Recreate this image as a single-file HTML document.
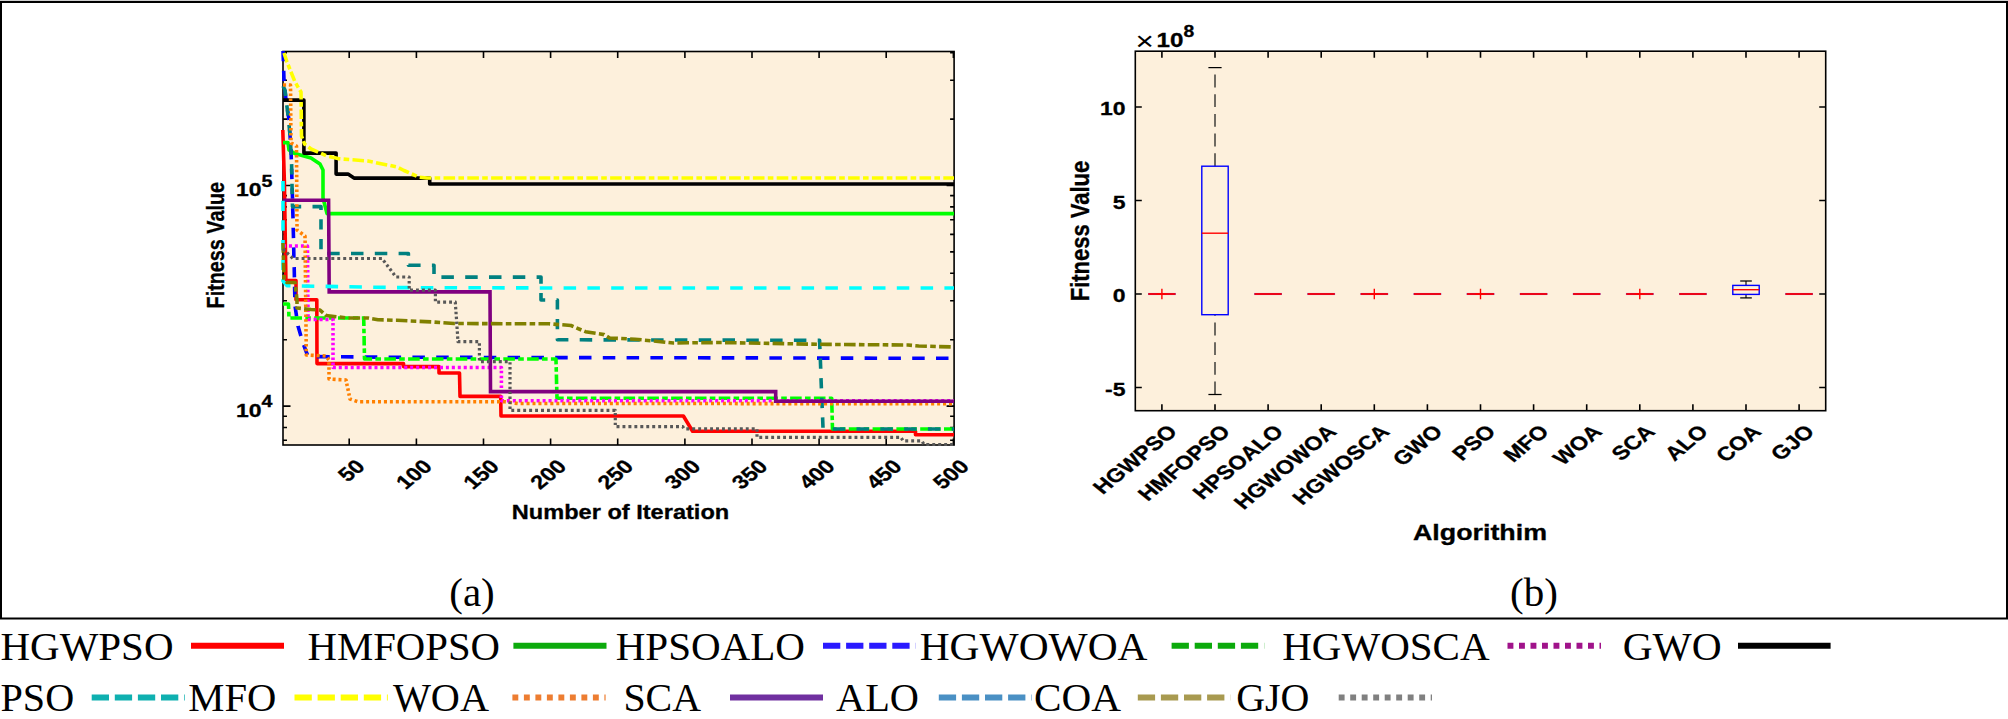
<!DOCTYPE html>
<html lang="en">
<head>
<meta charset="utf-8">
<title>Convergence curves and box plot</title>
<style>
html,body{margin:0;padding:0;background:#fff;}
body{width:2008px;height:719px;overflow:hidden;font-family:"Liberation Sans",sans-serif;}
svg{display:block;}
</style>
</head>
<body>
<svg width="2008" height="719" viewBox="0 0 2008 719">
<rect x="0" y="0" width="2008" height="719" fill="#fff"/>
<rect x="0" y="0" width="2008" height="1" fill="#d0d0d0"/>
<rect x="1" y="2" width="2006" height="616.5" fill="none" stroke="#000" stroke-width="2"/>
<rect x="283.0" y="51.5" width="671.1" height="393.5" fill="#FDF0DC"/>
<rect x="283.0" y="51.5" width="671.1" height="393.5" fill="none" stroke="#000" stroke-width="1.6"/>
<path d="M349.2 445.0 v-6.5 M349.2 51.5 v6.5 M416.4 445.0 v-6.5 M416.4 51.5 v6.5 M483.5 445.0 v-6.5 M483.5 51.5 v6.5 M550.6 445.0 v-6.5 M550.6 51.5 v6.5 M617.7 445.0 v-6.5 M617.7 51.5 v6.5 M684.9 445.0 v-6.5 M684.9 51.5 v6.5 M752.0 445.0 v-6.5 M752.0 51.5 v6.5 M819.1 445.0 v-6.5 M819.1 51.5 v6.5 M886.2 445.0 v-6.5 M886.2 51.5 v6.5 M953.4 445.0 v-6.5 M953.4 51.5 v6.5 M283.0 440.3 h4.0 M954.1 440.3 h-4.0 M283.0 427.5 h4.0 M954.1 427.5 h-4.0 M283.0 416.2 h4.0 M954.1 416.2 h-4.0 M283.0 406.1 h7.5 M954.1 406.1 h-7.5 M283.0 339.7 h4.0 M954.1 339.7 h-4.0 M283.0 300.8 h4.0 M954.1 300.8 h-4.0 M283.0 273.3 h4.0 M954.1 273.3 h-4.0 M283.0 251.9 h4.0 M954.1 251.9 h-4.0 M283.0 234.4 h4.0 M954.1 234.4 h-4.0 M283.0 219.7 h4.0 M954.1 219.7 h-4.0 M283.0 206.9 h4.0 M954.1 206.9 h-4.0 M283.0 195.6 h4.0 M954.1 195.6 h-4.0 M283.0 185.5 h7.5 M954.1 185.5 h-7.5 M283.0 119.1 h4.0 M954.1 119.1 h-4.0 M283.0 80.2 h4.0 M954.1 80.2 h-4.0 M283.0 52.7 h4.0 M954.1 52.7 h-4.0" stroke="#000" stroke-width="1.6" fill="none"/>
<g clip-path="url(#clipL)">
<defs><clipPath id="clipL"><rect x="280.5" y="49.0" width="674.6" height="398.0"/></clipPath></defs>
<path d="M282.8 130.0 L284.4 182.0 L285.9 280.6 L296.0 280.6 L296.0 299.8 L316.8 299.8 L317.0 363.6 L403.5 363.6 L403.5 366.6 L439.0 366.6 L439.0 373.0 L459.5 373.0 L460.0 396.4 L500.7 396.4 L501.0 416.0 L683.4 416.0 L692.6 431.3 L915.5 431.3 L915.5 434.8 L954.0 434.8" fill="none" stroke="#FF0000" stroke-width="3.6" stroke-linecap="butt" stroke-linejoin="round"/>
<path d="M283.0 142.6 L288.0 142.6 L289.0 150.0 L295.0 153.6 L311.0 158.0 L320.0 164.0 L323.0 170.0 L323.0 198.0 L327.0 213.6 L954.0 213.6" fill="none" stroke="#00FF00" stroke-width="3.6" stroke-linecap="butt" stroke-linejoin="round"/>
<path d="M283.0 51.0 L283.4 61.3 M283.7 70.7 L284.0 80.0 L284.1 81.0 M285.0 90.3 L286.0 100.0 L286.1 100.6 M287.5 109.9 L289.0 120.0 L289.0 120.1 M289.6 129.4 L290.3 139.7 M290.9 149.1 L291.0 150.0 L291.3 159.4 M291.6 168.7 L291.9 179.1 M292.2 188.4 L292.5 198.7 M292.7 208.1 L293.0 218.4 M293.2 227.7 L293.5 238.1 M293.7 247.4 L293.9 257.7 M294.2 267.1 L294.4 277.4 M294.6 286.7 L294.8 297.1 M295.1 306.4 L296.6 316.6 M298.0 325.9 L298.0 326.0 L300.9 335.9 M303.7 345.0 L307.4 354.9 M317.2 356.6 L329.7 356.7 M341.0 356.8 L353.5 356.9 M364.8 357.0 L377.3 357.1 M388.6 357.2 L400.0 357.3 L401.1 357.3 M412.4 357.3 L424.9 357.3 M436.2 357.4 L448.7 357.4 M460.0 357.4 L472.5 357.4 M483.8 357.5 L496.3 357.5 M507.6 357.5 L520.1 357.5 M531.4 357.5 L543.9 357.6 M555.2 357.6 L567.7 357.6 M579.0 357.6 L591.5 357.6 M602.8 357.7 L615.3 357.7 M626.6 357.7 L639.1 357.7 M650.4 357.8 L662.9 357.8 M674.2 357.8 L686.7 357.8 M698.0 357.8 L710.5 357.9 M721.8 357.9 L734.3 357.9 M745.6 357.9 L758.1 357.9 M769.4 358.0 L781.9 358.0 M793.2 358.0 L805.7 358.0 M817.0 358.1 L829.5 358.1 M840.8 358.1 L853.3 358.1 M864.6 358.1 L877.1 358.2 M888.4 358.2 L900.9 358.2 M912.2 358.2 L924.7 358.2 M936.0 358.3 L948.5 358.3" fill="none" stroke="#0000FF" stroke-width="3.6" stroke-linejoin="round"/>
<path d="M283.0 304.0 L288.5 304.0 L288.7 309.0 M288.8 311.8 L288.9 316.4 M290.4 318.0 L302.0 318.0 M305.3 318.0 L310.9 318.0 M314.2 318.0 L325.8 318.0 M329.1 318.0 L334.7 318.0 M338.0 318.0 L349.6 318.0 M352.9 318.0 L358.5 318.0 M361.8 318.0 L363.7 318.0 L363.9 326.0 M363.9 328.7 L364.0 333.3 M364.1 336.1 L364.2 345.6 M364.3 348.4 L364.4 353.0 M364.4 355.7 L364.5 359.0 L372.1 359.0 M375.4 359.0 L381.0 359.0 M384.3 359.0 L395.9 359.0 M399.2 359.0 L404.8 359.0 M408.1 359.0 L419.7 359.0 M423.0 359.0 L428.6 359.0 M431.9 359.0 L443.5 359.0 M446.8 359.0 L452.4 359.0 M455.7 359.0 L467.3 359.0 M470.6 359.0 L476.2 359.0 M479.5 359.0 L491.1 359.0 M494.4 359.0 L500.0 359.0 M503.3 359.0 L514.9 359.0 M518.2 359.0 L523.8 359.0 M527.1 359.0 L538.7 359.0 M542.0 359.0 L547.6 359.0 M550.9 359.0 L556.0 359.0 L556.1 364.4 M556.2 367.1 L556.3 371.8 M556.4 374.5 L556.6 384.1 M556.7 386.8 L556.8 391.4 M556.9 394.1 L557.0 398.2 L563.7 398.2 M567.0 398.2 L572.6 398.2 M575.9 398.2 L587.5 398.2 M590.8 398.2 L596.4 398.2 M599.7 398.2 L611.3 398.2 M614.6 398.2 L620.2 398.2 M623.5 398.2 L635.1 398.2 M638.4 398.2 L644.0 398.2 M647.3 398.2 L658.9 398.2 M662.2 398.2 L667.8 398.2 M671.1 398.2 L682.7 398.2 M686.0 398.2 L691.6 398.2 M694.9 398.2 L706.5 398.2 M709.8 398.2 L715.4 398.2 M718.7 398.2 L730.3 398.2 M733.6 398.2 L739.2 398.2 M742.5 398.2 L754.1 398.2 M757.4 398.2 L763.0 398.2 M766.3 398.2 L777.9 398.2 M781.2 398.2 L786.8 398.2 M790.1 398.2 L801.7 398.2 M805.0 398.2 L810.6 398.2 M813.9 398.2 L825.5 398.2 M828.8 398.2 L831.7 398.2 L831.8 400.4 M831.8 403.2 L832.1 412.7 M832.1 415.5 L832.3 420.1 M832.3 422.8 L832.5 429.0 L836.6 429.0 M839.9 429.0 L845.5 429.0 M848.8 429.0 L860.4 429.0 M863.7 429.0 L869.3 429.0 M872.6 429.0 L884.2 429.0 M887.5 429.0 L893.1 429.0 M896.4 429.0 L908.0 429.0 M911.3 429.0 L916.9 429.0 M920.2 429.0 L931.8 429.0 M935.1 429.0 L940.7 429.0 M944.0 429.0 L954.0 429.0" fill="none" stroke="#00FF00" stroke-width="3.6" stroke-linejoin="round"/>
<path d="M283.0 246.0 L286.1 246.0 M288.9 246.0 L292.0 246.0 M294.9 246.0 L297.9 246.0 M300.9 246.0 L303.9 246.0 M306.8 246.0 L307.5 246.0 L307.5 247.9 M307.5 250.3 L307.5 252.9 M307.6 255.3 L307.6 257.8 M307.6 260.2 L307.6 262.7 M307.6 265.1 L307.6 267.6 M307.7 270.0 L307.7 272.5 M307.7 274.9 L307.7 277.4 M307.7 279.8 L307.7 282.4 M307.8 284.8 L307.8 287.3 M307.8 289.7 L307.8 292.2 M307.8 294.6 L307.8 297.1 M307.9 299.5 L307.9 302.0 M307.9 304.4 L307.9 306.9 M307.9 309.3 L307.9 311.9 M308.0 314.3 L308.0 316.8 M308.0 319.2 L308.0 319.5 L310.7 319.5 M313.6 319.5 L316.6 319.5 M319.5 319.5 L322.6 319.5 M325.5 319.5 L328.5 319.5 M331.4 319.5 L333.0 319.5 L333.0 320.7 M333.0 323.1 L333.0 325.6 M333.0 328.0 L333.0 330.5 M333.0 332.9 L333.0 335.5 M333.0 337.9 L333.0 340.4 M333.0 342.8 L333.0 345.3 M333.0 347.7 L333.0 350.2 M333.0 352.6 L333.0 355.1 M333.0 357.5 L333.0 360.0 M333.0 362.4 L333.0 365.0 M333.0 367.4 L333.0 367.5 L335.9 367.5 M338.8 367.5 L341.8 367.5 M344.7 367.5 L347.8 367.5 M350.7 367.5 L353.7 367.5 M356.6 367.5 L359.7 367.5 M362.6 367.5 L365.6 367.5 M368.5 367.5 L371.6 367.5 M374.5 367.5 L377.5 367.5 M380.4 367.5 L383.5 367.5 M386.4 367.5 L389.4 367.5 M392.3 367.5 L395.4 367.5 M398.3 367.5 L401.3 367.5 M404.2 367.5 L407.3 367.5 M410.2 367.5 L413.2 367.5 M416.1 367.5 L419.2 367.5 M422.1 367.5 L425.1 367.5 M428.0 367.5 L431.1 367.5 M434.0 367.5 L437.0 367.5 M439.9 367.5 L443.0 367.5 M445.9 367.5 L448.9 367.5 M451.8 367.5 L454.9 367.5 M457.8 367.5 L460.8 367.5 M463.7 367.5 L466.8 367.5 M469.7 367.5 L472.7 367.5 M475.6 367.5 L478.7 367.5 M481.6 367.5 L484.6 367.5 M487.5 367.5 L490.6 367.5 M493.5 367.5 L496.5 367.5 M499.4 367.5 L501.4 367.5 L501.4 368.4 M501.4 370.8 L501.4 373.3 M501.4 375.7 L501.4 378.2 M501.4 380.6 L501.4 383.1 M501.4 385.5 L501.4 388.1 M501.4 390.5 L501.4 393.0 M501.4 395.4 L501.4 397.9 M501.4 400.3 L501.4 400.7 L504.0 400.7 M506.9 400.7 L509.9 400.7 M512.8 400.7 L515.9 400.7 M518.8 400.7 L521.8 400.7 M524.7 400.7 L527.8 400.7 M530.7 400.7 L533.7 400.7 M536.6 400.7 L539.7 400.7 M542.6 400.7 L545.6 400.7 M548.5 400.7 L551.6 400.7 M554.5 400.7 L557.5 400.7 M560.4 400.7 L563.5 400.7 M566.4 400.7 L569.4 400.7 M572.3 400.7 L575.4 400.7 M578.3 400.7 L581.3 400.7 M584.2 400.7 L587.3 400.7 M590.2 400.7 L593.2 400.7 M596.1 400.7 L599.2 400.7 M602.1 400.7 L605.1 400.7 M608.0 400.7 L611.1 400.7 M614.0 400.7 L617.0 400.7 M619.9 400.7 L623.0 400.7 M625.9 400.7 L628.9 400.7 M631.8 400.7 L634.9 400.7 M637.8 400.7 L640.8 400.7 M643.7 400.7 L646.8 400.7 M649.7 400.7 L652.7 400.7 M655.6 400.7 L658.7 400.7 M661.6 400.7 L664.6 400.7 M667.5 400.7 L670.6 400.7 M673.5 400.7 L676.5 400.7 M679.4 400.7 L682.5 400.7 M685.4 400.7 L688.4 400.7 M691.3 400.7 L694.4 400.7 M697.3 400.7 L700.3 400.7 M703.2 400.7 L706.3 400.7 M709.2 400.7 L712.2 400.7 M715.1 400.7 L718.2 400.7 M721.1 400.7 L724.1 400.7 M727.0 400.7 L730.1 400.7 M733.0 400.7 L736.0 400.7 M738.9 400.7 L742.0 400.7 M744.9 400.7 L747.9 400.7 M750.8 400.7 L753.9 400.7 M756.8 400.7 L759.8 400.7 M762.7 400.7 L765.8 400.7 M768.7 400.7 L771.7 400.7 M774.6 400.7 L777.7 400.7 M780.6 400.7 L783.6 400.7 M786.5 400.7 L789.6 400.7 M792.5 400.7 L795.5 400.7 M798.4 400.7 L801.5 400.7 M804.4 400.7 L807.4 400.7 M810.3 400.7 L813.4 400.7 M816.3 400.7 L819.3 400.7 M822.2 400.7 L825.3 400.7 M828.2 400.7 L831.2 400.7 M834.1 400.7 L837.2 400.7 M840.1 400.7 L843.1 400.7 M846.0 400.7 L849.1 400.7 M852.0 400.7 L855.0 400.7 M857.9 400.7 L861.0 400.7 M863.9 400.7 L866.9 400.7 M869.8 400.7 L872.9 400.7 M875.8 400.7 L878.8 400.7 M881.7 400.7 L884.8 400.7 M887.7 400.7 L890.7 400.7 M893.6 400.7 L896.7 400.7 M899.6 400.7 L902.6 400.7 M905.5 400.7 L908.6 400.7 M911.5 400.7 L914.5 400.7 M917.4 400.7 L920.5 400.7 M923.4 400.7 L926.4 400.7 M929.3 400.7 L932.4 400.7 M935.3 400.7 L938.3 400.7 M941.2 400.7 L944.3 400.7 M947.2 400.7 L950.2 400.7 M953.1 400.7 L954.0 400.7" fill="none" stroke="#FF00FF" stroke-width="3.6" stroke-linejoin="round"/>
<path d="M283.0 100.1 L303.9 100.1 L303.9 153.1 L336.1 153.1 L336.1 174.1 L348.0 174.1 L354.0 178.1 L429.7 178.1 L429.7 184.0 L954.0 184.0" fill="none" stroke="#000000" stroke-width="3.6" stroke-linecap="butt" stroke-linejoin="round"/>
<path d="M283.0 86.0 L285.0 90.0 L285.7 96.0 M286.8 105.3 L288.0 115.0 L288.1 115.5 M289.0 124.9 L290.0 135.0 L290.0 135.2 M290.6 144.5 L291.2 154.8 M291.6 164.1 L291.8 174.5 M292.0 183.8 L292.2 194.1 M292.4 203.5 L292.5 206.6 L301.2 206.6 M312.5 206.6 L321.0 206.6 L321.0 209.9 M321.0 219.2 L321.0 229.6 M321.0 238.9 L321.0 249.2 M327.2 253.5 L339.7 253.5 M351.0 253.5 L363.5 253.5 M374.8 253.5 L387.3 253.5 M398.6 253.5 L408.4 253.5 L408.4 255.7 M408.4 265.0 L408.4 265.3 L420.6 265.3 M431.9 265.3 L434.0 265.3 L434.0 273.9 M441.4 277.1 L453.9 277.1 M465.2 277.1 L477.7 277.1 M489.0 277.1 L501.5 277.1 M512.8 277.1 L525.3 277.1 M536.6 277.1 L541.0 277.1 L541.0 283.8 M541.0 293.1 L541.0 300.0 L545.2 300.0 M556.5 300.0 L557.4 300.0 L557.4 309.6 M557.4 318.9 L557.4 329.2 M557.4 338.6 L557.4 339.8 L568.4 339.8 M579.7 339.8 L592.2 339.9 M603.5 339.9 L616.0 339.9 M627.3 339.9 L639.8 340.0 M651.1 340.0 L663.6 340.0 M674.9 340.0 L687.4 340.0 M698.7 340.1 L711.2 340.1 M722.5 340.1 L735.0 340.1 M746.3 340.2 L758.8 340.2 M770.1 340.2 L782.6 340.2 M793.9 340.3 L806.4 340.3 M817.7 340.3 L819.6 340.3 L819.9 349.1 M820.3 358.4 L820.7 368.7 M821.0 378.1 L821.4 388.4 M821.8 397.7 L822.2 408.1 M822.6 417.4 L823.0 427.7 M832.7 429.0 L845.2 429.0 M856.5 429.0 L869.0 429.0 M880.3 429.0 L892.8 429.0 M904.1 429.0 L916.6 429.0 M927.9 429.0 L940.4 429.0 M951.7 429.0 L954.0 429.0" fill="none" stroke="#008080" stroke-width="3.6" stroke-linejoin="round"/>
<path d="M284.0 53.0 L287.0 62.0 L287.1 62.2 M288.1 64.8 L289.9 69.2 M290.9 71.8 L291.0 72.0 L294.6 80.9 M295.9 83.4 L298.3 87.6 M299.8 90.0 L301.0 92.0 L301.1 99.4 M301.1 102.1 L301.2 106.7 M301.2 109.4 L301.3 119.0 M301.3 121.8 L301.4 126.4 M301.4 129.1 L301.5 136.0 L302.5 138.6 M303.5 141.2 L304.6 144.0 L306.1 145.1 M308.5 147.0 L311.0 149.0 L318.1 152.1 M321.1 153.4 L326.0 155.6 L326.0 155.6 M329.2 156.4 L338.0 158.6 L340.4 158.8 M343.6 159.1 L349.2 159.5 M352.5 159.8 L364.0 160.7 M367.3 160.9 L368.0 161.0 L372.8 162.0 M376.0 162.7 L387.2 165.0 M390.4 165.6 L395.9 166.8 M398.8 167.9 L404.0 170.5 L408.9 172.7 M411.8 174.0 L416.7 176.2 M419.7 177.2 L427.0 178.0 L431.3 178.0 M434.6 178.0 L440.2 178.0 M443.5 178.0 L455.1 178.0 M458.4 178.0 L464.0 178.0 M467.3 178.0 L478.9 178.0 M482.2 178.0 L487.8 178.0 M491.1 178.0 L502.7 178.0 M506.0 178.0 L511.6 178.0 M514.9 178.0 L526.5 178.0 M529.8 178.0 L535.4 178.0 M538.7 178.0 L550.3 178.0 M553.6 178.0 L559.2 178.0 M562.5 178.0 L574.1 178.0 M577.4 178.0 L583.0 178.0 M586.3 178.0 L597.9 178.0 M601.2 178.0 L606.8 178.0 M610.1 178.0 L621.7 178.0 M625.0 178.0 L630.6 178.0 M633.9 178.0 L645.5 178.0 M648.8 178.0 L654.4 178.0 M657.7 178.0 L669.3 178.0 M672.6 178.0 L678.2 178.0 M681.5 178.0 L693.1 178.0 M696.4 178.0 L702.0 178.0 M705.3 178.0 L716.9 178.0 M720.2 178.0 L725.8 178.0 M729.1 178.0 L740.7 178.0 M744.0 178.0 L749.6 178.0 M752.9 178.0 L764.5 178.0 M767.8 178.0 L773.4 178.0 M776.7 178.0 L788.3 178.0 M791.6 178.0 L797.2 178.0 M800.5 178.0 L812.1 178.0 M815.4 178.0 L821.0 178.0 M824.3 178.0 L835.9 178.0 M839.2 178.0 L844.8 178.0 M848.1 178.0 L859.7 178.0 M863.0 178.0 L868.6 178.0 M871.9 178.0 L883.5 178.0 M886.8 178.0 L892.4 178.0 M895.7 178.0 L907.3 178.0 M910.6 178.0 L916.2 178.0 M919.5 178.0 L931.1 178.0 M934.4 178.0 L940.0 178.0 M943.3 178.0 L954.0 178.0" fill="none" stroke="#FFFF00" stroke-width="3.6" stroke-linejoin="round"/>
<path d="M283.0 85.0 L286.1 85.0 M288.9 85.0 L290.5 85.0 L290.5 86.2 M290.5 88.6 L290.6 91.2 M290.6 93.6 L290.6 96.1 M290.6 98.5 L290.6 101.0 M290.7 103.4 L290.7 105.9 M290.7 108.3 L290.7 110.8 M290.7 113.2 L290.8 115.7 M290.8 118.1 L290.8 120.7 M290.8 123.1 L290.8 125.6 M290.9 128.0 L290.9 130.5 M290.9 132.9 L290.9 135.4 M291.0 137.8 L291.0 140.3 M291.0 142.7 L291.0 143.0 L293.3 144.2 M295.7 145.6 L296.5 146.0 L296.5 147.7 M296.5 150.1 L296.5 152.6 M296.6 155.0 L296.6 157.6 M296.6 159.9 L296.6 162.5 M296.6 164.9 L296.6 167.4 M296.6 169.8 L296.7 172.3 M296.7 174.7 L296.7 177.2 M296.7 179.6 L296.7 182.1 M296.7 184.5 L296.7 187.1 M296.8 189.5 L296.8 192.0 M296.8 194.4 L296.8 196.9 M296.8 199.3 L296.8 201.8 M296.8 204.2 L296.9 206.7 M296.9 209.1 L296.9 211.6 M296.9 214.0 L296.9 216.6 M296.9 219.0 L296.9 221.5 M297.0 223.9 L297.0 226.4 M297.0 228.8 L297.0 230.0 L298.2 230.9 M300.3 232.5 L302.6 234.2 M304.7 235.8 L305.0 236.0 L305.0 238.2 M305.1 240.6 L305.1 243.1 M305.1 245.5 L305.1 248.1 M305.2 250.4 L305.2 253.0 M305.2 255.4 L305.2 257.9 M305.3 260.3 L305.3 262.8 M305.3 265.2 L305.3 267.7 M305.4 270.1 L305.4 272.6 M305.4 275.0 L305.5 277.6 M305.5 280.0 L305.5 282.5 M305.5 284.9 L305.6 287.4 M305.6 289.8 L305.6 292.3 M305.6 294.7 L305.7 297.2 M305.7 299.6 L305.7 302.1 M305.7 304.5 L305.8 307.1 M305.8 309.5 L305.8 312.0 M305.9 314.4 L305.9 316.9 M305.9 319.3 L305.9 321.8 M306.0 324.2 L306.0 326.7 M306.0 329.1 L306.0 331.6 M306.1 334.0 L306.1 336.6 M306.1 339.0 L306.2 341.5 M306.2 343.9 L306.2 346.4 M306.2 348.8 L306.3 351.3 M306.3 353.7 L306.3 355.0 L307.8 355.1 M310.7 355.2 L313.7 355.4 M316.6 355.5 L319.7 355.7 M322.6 355.8 L325.6 356.0 M327.3 357.8 L328.9 359.9 M329.0 362.3 L329.0 364.8 M329.0 367.2 L329.0 369.7 M329.0 372.1 L329.0 374.6 M329.0 377.0 L329.0 379.0 L329.7 379.0 M332.6 379.2 L335.6 379.4 M338.5 379.6 L341.5 379.7 M344.4 379.9 L346.0 380.0 L346.3 381.2 M346.7 383.6 L347.3 386.0 M347.8 388.4 L348.3 390.9 M348.8 393.3 L349.3 395.7 M349.8 398.1 L350.0 399.0 L351.8 399.6 M354.5 400.6 L357.3 401.5 M360.1 401.8 L363.2 401.8 M366.1 401.8 L369.1 401.8 M372.0 401.8 L375.1 401.8 M378.0 401.8 L381.0 401.8 M383.9 401.8 L387.0 401.8 M389.9 401.8 L392.9 401.8 M395.8 401.8 L398.9 401.8 M401.8 401.8 L404.8 401.8 M407.7 401.8 L410.8 401.8 M413.7 401.8 L416.7 401.8 M419.6 401.8 L422.7 401.8 M425.6 401.8 L428.6 401.8 M431.5 401.8 L434.6 401.8 M437.5 401.8 L440.5 401.8 M443.4 401.8 L446.5 401.8 M449.4 401.8 L452.4 401.8 M455.3 401.8 L458.4 401.8 M461.3 401.8 L464.3 401.8 M467.2 401.8 L470.3 401.8 M473.2 401.8 L476.2 401.8 M479.1 401.8 L482.2 401.8 M485.1 401.8 L488.1 401.8 M491.0 401.8 L494.1 401.8 M497.0 401.8 L500.0 401.8 M502.9 401.8 L505.0 401.8 L505.9 401.9 M508.8 402.3 L511.8 402.7 M514.7 403.1 L517.7 403.5 M520.6 403.5 L523.6 403.5 M526.5 403.5 L529.6 403.5 M532.5 403.5 L535.5 403.5 M538.4 403.5 L541.5 403.5 M544.4 403.5 L547.4 403.5 M550.3 403.5 L553.4 403.5 M556.3 403.5 L559.3 403.5 M562.2 403.5 L565.3 403.5 M568.2 403.5 L571.2 403.5 M574.1 403.5 L577.2 403.5 M580.1 403.5 L583.1 403.5 M586.0 403.5 L589.1 403.5 M592.0 403.5 L595.0 403.5 M597.9 403.5 L601.0 403.5 M603.9 403.5 L606.9 403.5 M609.8 403.5 L612.9 403.5 M615.8 403.5 L618.8 403.5 M621.7 403.5 L624.8 403.5 M627.7 403.5 L630.7 403.5 M633.6 403.5 L636.7 403.5 M639.6 403.5 L642.6 403.5 M645.5 403.5 L648.6 403.5 M651.5 403.5 L654.5 403.5 M657.4 403.5 L660.5 403.5 M663.4 403.5 L666.4 403.5 M669.3 403.5 L672.4 403.5 M675.3 403.5 L678.3 403.5 M681.2 403.5 L684.3 403.5 M687.2 403.5 L690.2 403.5 M693.1 403.5 L696.2 403.5 M699.1 403.5 L702.1 403.5 M705.0 403.5 L708.1 403.5 M711.0 403.5 L714.0 403.5 M716.9 403.5 L720.0 403.5 M722.9 403.5 L725.9 403.5 M728.8 403.5 L731.9 403.5 M734.8 403.5 L737.8 403.6 M740.7 403.6 L743.8 403.6 M746.7 403.6 L749.7 403.6 M752.6 403.6 L755.7 403.6 M758.6 403.6 L761.6 403.6 M764.5 403.6 L767.6 403.6 M770.5 403.6 L773.5 403.6 M776.4 403.6 L779.5 403.6 M782.4 403.6 L785.4 403.6 M788.3 403.6 L791.4 403.6 M794.3 403.6 L797.3 403.6 M800.2 403.6 L803.3 403.6 M806.2 403.6 L809.2 403.6 M812.1 403.6 L815.2 403.6 M818.1 403.6 L821.1 403.6 M824.0 403.6 L827.1 403.6 M830.0 403.6 L833.0 403.6 M835.9 403.6 L839.0 403.6 M841.9 403.6 L844.9 403.6 M847.8 403.6 L850.9 403.6 M853.8 403.6 L856.8 403.6 M859.7 403.6 L862.8 403.6 M865.7 403.6 L868.7 403.6 M871.6 403.6 L874.7 403.6 M877.6 403.6 L880.6 403.6 M883.5 403.6 L886.6 403.6 M889.5 403.6 L892.5 403.6 M895.4 403.6 L898.5 403.6 M901.4 403.6 L904.4 403.6 M907.3 403.6 L910.4 403.6 M913.3 403.6 L916.3 403.6 M919.2 403.6 L922.3 403.6 M925.2 403.6 L928.2 403.6 M931.1 403.6 L934.2 403.6 M937.1 403.6 L940.1 403.6 M943.0 403.6 L946.1 403.6 M949.0 403.6 L952.0 403.6" fill="none" stroke="#FF8000" stroke-width="3.6" stroke-linejoin="round"/>
<path d="M283.0 200.3 L328.6 200.3 L329.2 291.9 L490.0 291.9 L490.5 391.6 L775.7 391.6 L775.7 401.2 L954.0 401.2" fill="none" stroke="#800080" stroke-width="3.6" stroke-linecap="butt" stroke-linejoin="miter"/>
<path d="M283.0 181.0 L283.0 191.3 M283.0 200.7 L283.0 211.0 M283.0 220.3 L283.0 230.7 M283.0 240.0 L283.0 250.3 M283.0 259.7 L283.0 270.0 M283.0 279.3 L283.0 281.0 L287.0 285.7 L290.5 285.8 M301.8 286.0 L314.3 286.2 M325.6 286.4 L338.1 286.6 M349.4 286.8 L361.9 287.0 M373.2 287.2 L385.7 287.4 M397.0 287.6 L400.0 287.6 L409.5 287.6 M420.8 287.7 L433.3 287.7 M444.6 287.7 L457.1 287.8 M468.4 287.8 L480.9 287.8 M492.2 287.8 L504.7 287.9 M516.0 287.9 L528.5 287.9 M539.8 288.0 L550.0 288.0 L552.3 288.0 M563.6 288.0 L576.1 288.0 M587.4 288.0 L599.9 288.0 M611.2 288.0 L623.7 288.0 M635.0 288.0 L647.5 288.0 M658.8 288.0 L671.3 288.0 M682.6 288.0 L695.1 288.0 M706.4 288.0 L718.9 288.0 M730.2 288.0 L742.7 288.0 M754.0 288.0 L766.5 288.0 M777.8 288.0 L790.3 288.0 M801.6 288.0 L814.1 288.0 M825.4 288.0 L837.9 288.0 M849.2 288.0 L861.7 288.0 M873.0 288.0 L885.5 288.0 M896.8 288.0 L909.3 288.0 M920.6 288.0 L933.1 288.0 M944.4 288.0 L954.0 288.0" fill="none" stroke="#00FFFF" stroke-width="3.6" stroke-linejoin="round"/>
<path d="M283.0 243.0 L283.3 252.6 M283.3 255.3 L283.5 259.9 M283.5 262.7 L283.8 272.2 M283.9 275.0 L284.0 279.6 M286.0 281.7 L287.0 282.5 L295.0 282.5 L295.2 284.3 M295.5 287.0 L296.0 291.6 M296.4 294.3 L297.0 300.0 L297.0 303.9 M297.0 306.6 L297.0 308.0 L300.9 308.4 M304.1 308.8 L311.0 309.5 L315.7 309.8 M319.0 309.9 L320.0 310.0 L323.1 312.8 M325.3 314.8 L326.0 315.5 L334.0 316.5 L336.4 316.8 M339.7 317.1 L345.2 317.7 M348.5 318.0 L360.1 318.0 M363.4 318.0 L368.0 318.0 L369.0 318.2 M372.2 318.8 L378.0 319.8 L383.7 319.9 M387.0 320.0 L392.6 320.2 M395.9 320.3 L397.0 320.3 L407.4 320.8 M410.7 321.0 L416.3 321.2 M419.6 321.4 L431.2 321.9 M434.5 322.1 L440.1 322.5 M443.4 322.8 L454.0 323.5 L454.9 323.5 M458.2 323.5 L463.8 323.5 M467.1 323.5 L478.7 323.6 M482.0 323.6 L487.6 323.6 M490.9 323.6 L502.5 323.7 M505.8 323.7 L511.4 323.7 M514.7 323.7 L526.3 323.7 M529.6 323.7 L535.2 323.8 M538.5 323.8 L549.0 323.8 L550.1 323.9 M553.4 324.1 L559.0 324.6 M562.3 324.8 L571.0 325.5 L573.5 326.6 M576.4 327.8 L581.4 330.0 M584.3 331.2 L585.5 331.7 L595.6 333.3 M598.9 333.8 L604.0 334.6 L604.3 334.8 M607.0 336.4 L609.6 338.0 L617.9 338.4 M621.2 338.5 L626.8 338.8 M630.1 339.0 L635.0 339.2 L641.6 339.8 M644.9 340.2 L650.5 340.7 M653.8 341.0 L660.7 341.7 L665.3 342.2 M668.5 342.5 L673.5 343.0 L674.1 343.0 M677.4 343.0 L689.0 342.8 M692.3 342.8 L697.9 342.7 M701.2 342.7 L712.8 342.6 M716.1 342.5 L720.0 342.5 L721.7 342.5 M725.0 342.6 L736.6 342.8 M739.9 342.9 L745.5 343.0 M748.8 343.0 L760.4 343.2 M763.7 343.3 L769.3 343.4 M772.6 343.4 L784.2 343.6 M787.5 343.7 L793.1 343.8 M796.4 343.9 L808.0 344.1 M811.3 344.1 L816.9 344.2 M820.2 344.3 L827.0 344.4 L831.8 344.4 M835.1 344.5 L840.7 344.5 M844.0 344.5 L855.6 344.6 M858.9 344.6 L864.5 344.7 M867.8 344.7 L879.4 344.8 M882.7 344.8 L888.3 344.9 M891.6 344.9 L903.2 345.0 M906.5 345.0 L908.0 345.0 L912.0 345.4 M915.3 345.7 L918.7 346.0 L926.9 346.2 M930.2 346.3 L935.8 346.5 M939.1 346.6 L950.7 346.9 M954.0 347.0 L954.0 347.0" fill="none" stroke="#808000" stroke-width="3.6" stroke-linejoin="round"/>
<path d="M283.0 249.0 L284.9 250.8 M286.9 252.7 L288.8 254.5 M290.8 256.4 L292.7 258.3 M295.6 258.5 L298.6 258.5 M301.6 258.5 L304.5 258.5 M307.5 258.5 L310.5 258.5 M313.5 258.5 L316.4 258.5 M319.4 258.5 L322.4 258.5 M325.4 258.5 L328.3 258.5 M331.3 258.5 L334.3 258.5 M337.3 258.5 L340.2 258.5 M343.2 258.5 L346.2 258.5 M349.2 258.5 L352.1 258.5 M355.1 258.5 L358.1 258.5 M361.1 258.5 L364.0 258.5 M367.0 258.5 L370.0 258.5 M373.0 258.5 L375.9 258.5 M378.9 258.5 L381.9 258.5 M383.5 260.5 L385.1 262.6 M386.7 264.7 L388.2 266.7 M389.8 268.8 L391.4 270.9 M393.0 273.0 L394.5 275.1 M396.3 277.0 L399.2 277.0 M402.2 277.0 L405.2 277.0 M408.2 277.0 L409.2 277.0 L409.2 278.6 M409.2 281.1 L409.2 283.5 M409.2 286.0 L409.2 288.4 M410.0 290.2 L413.0 290.2 M416.0 290.2 L418.9 290.2 M421.9 290.2 L424.9 290.2 M427.9 290.2 L430.8 290.2 M433.8 290.2 L435.4 290.2 L435.4 291.3 M435.4 293.8 L435.4 296.3 M435.4 298.7 L435.4 301.2 M437.2 302.2 L440.1 302.2 M443.1 302.2 L446.1 302.2 M449.1 302.2 L452.0 302.2 M455.0 302.2 L455.3 302.2 L455.5 304.4 M455.6 306.9 L455.8 309.3 M456.0 311.8 L456.1 314.2 M456.3 316.7 L456.5 319.1 M456.6 321.6 L456.8 324.0 M457.0 326.5 L457.1 329.0 M457.3 331.4 L457.5 333.9 M457.6 336.3 L457.8 338.8 M458.0 341.2 L458.0 341.7 L460.4 341.7 M463.4 341.7 L466.3 341.7 M469.3 341.7 L472.3 341.7 M475.3 341.7 L478.2 341.7 M479.4 343.2 L479.4 345.7 M479.4 348.1 L479.4 350.6 M479.4 353.1 L479.4 355.5 M479.4 358.0 L479.4 360.4 M481.0 361.6 L483.9 361.6 M486.9 361.6 L489.9 361.6 M492.9 361.6 L495.8 361.6 M498.8 361.6 L501.8 361.6 M504.8 361.6 L507.7 361.6 M510.0 362.2 L510.0 364.6 M510.0 367.1 L510.0 369.5 M510.0 372.0 L510.0 374.5 M510.0 376.9 L510.0 379.4 M510.0 381.9 L510.0 384.3 M510.0 386.8 L510.0 389.2 M510.0 391.7 L510.0 394.1 M510.0 396.6 L510.0 399.1 M510.0 401.5 L510.0 404.0 M510.0 406.5 L510.0 408.9 M511.3 410.3 L514.2 410.3 M517.2 410.3 L520.2 410.3 M523.2 410.3 L526.1 410.3 M529.1 410.3 L532.1 410.3 M535.1 410.3 L538.0 410.3 M541.0 410.3 L544.0 410.3 M547.0 410.3 L549.9 410.3 M552.9 410.3 L555.9 410.3 M558.9 410.3 L561.8 410.3 M564.8 410.3 L567.8 410.3 M570.8 410.3 L573.7 410.3 M576.7 410.3 L579.7 410.3 M582.7 410.3 L585.6 410.3 M588.6 410.3 L591.6 410.3 M594.6 410.3 L597.5 410.3 M600.5 410.3 L603.5 410.3 M606.5 410.3 L609.4 410.3 M612.4 410.3 L615.3 410.3 L615.3 410.4 M615.3 412.9 L615.3 415.3 M615.3 417.8 L615.3 420.2 M615.3 422.7 L615.3 425.1 M616.5 426.6 L619.5 426.6 M622.5 426.6 L625.4 426.6 M628.4 426.6 L631.4 426.6 M634.4 426.6 L637.3 426.6 M640.3 426.6 L643.3 426.6 M646.3 426.6 L649.2 426.6 M652.2 426.6 L655.2 426.6 M658.2 426.6 L661.1 426.6 M664.1 426.6 L667.1 426.6 M670.1 426.6 L673.0 426.6 M676.0 426.6 L679.0 426.6 M682.0 426.6 L682.7 426.6 L683.7 428.2 M686.3 428.8 L689.2 428.8 M692.2 428.8 L695.2 428.8 M698.2 428.8 L701.1 428.8 M704.1 428.8 L707.1 428.8 M710.1 428.8 L713.0 428.8 M716.0 428.8 L719.0 428.8 M722.0 428.8 L724.9 428.8 M727.9 428.8 L730.9 428.8 M733.9 428.8 L736.8 428.8 M739.8 428.8 L742.8 428.8 M745.8 428.8 L748.7 428.8 M751.7 428.8 L754.7 428.8 M757.0 429.3 L757.0 431.8 M757.0 434.3 L757.0 436.7 M759.3 437.3 L762.2 437.3 M765.2 437.3 L768.2 437.3 M771.2 437.3 L774.1 437.3 M777.1 437.3 L780.1 437.3 M783.1 437.3 L786.0 437.3 M789.0 437.3 L792.0 437.3 M795.0 437.3 L797.9 437.3 M800.9 437.3 L803.9 437.3 M806.9 437.3 L809.8 437.3 M812.8 437.3 L815.8 437.3 M818.8 437.3 L821.7 437.3 M824.7 437.3 L827.7 437.3 M830.7 437.3 L833.6 437.3 M836.6 437.3 L839.6 437.3 M842.6 437.3 L845.5 437.3 M848.5 437.3 L851.5 437.3 M854.5 437.3 L857.4 437.3 M860.4 437.3 L863.4 437.3 M866.4 437.3 L869.3 437.3 M872.3 437.3 L875.3 437.3 M878.3 437.3 L881.2 437.3 M884.2 437.3 L887.2 437.3 M890.2 437.3 L893.1 437.3 M896.1 437.3 L899.1 437.3 M901.4 438.1 L902.7 440.3 M905.2 440.9 L908.2 440.9 M911.2 440.9 L914.1 440.9 M917.1 440.9 L920.1 440.9 M922.4 441.8 L923.7 444.0 M926.3 444.5 L929.3 444.5 M932.3 444.5 L935.2 444.5 M938.2 444.5 L941.2 444.5 M944.2 444.5 L947.1 444.5 M950.1 444.5 L953.1 444.5" fill="none" stroke="#585858" stroke-width="3.2" stroke-linejoin="round"/>
</g>
<text transform="translate(366.2,467.6) scale(1.210,1) rotate(-45)" text-anchor="end" font-size="19.3" font-family="Liberation Sans, Arial, Helvetica, sans-serif" font-weight="bold" fill="#000" stroke="#000" stroke-width="0.3">50</text>
<text transform="translate(433.4,467.6) scale(1.210,1) rotate(-45)" text-anchor="end" font-size="19.3" font-family="Liberation Sans, Arial, Helvetica, sans-serif" font-weight="bold" fill="#000" stroke="#000" stroke-width="0.3">100</text>
<text transform="translate(500.5,467.6) scale(1.210,1) rotate(-45)" text-anchor="end" font-size="19.3" font-family="Liberation Sans, Arial, Helvetica, sans-serif" font-weight="bold" fill="#000" stroke="#000" stroke-width="0.3">150</text>
<text transform="translate(567.6,467.6) scale(1.210,1) rotate(-45)" text-anchor="end" font-size="19.3" font-family="Liberation Sans, Arial, Helvetica, sans-serif" font-weight="bold" fill="#000" stroke="#000" stroke-width="0.3">200</text>
<text transform="translate(634.7,467.6) scale(1.210,1) rotate(-45)" text-anchor="end" font-size="19.3" font-family="Liberation Sans, Arial, Helvetica, sans-serif" font-weight="bold" fill="#000" stroke="#000" stroke-width="0.3">250</text>
<text transform="translate(701.9,467.6) scale(1.210,1) rotate(-45)" text-anchor="end" font-size="19.3" font-family="Liberation Sans, Arial, Helvetica, sans-serif" font-weight="bold" fill="#000" stroke="#000" stroke-width="0.3">300</text>
<text transform="translate(769.0,467.6) scale(1.210,1) rotate(-45)" text-anchor="end" font-size="19.3" font-family="Liberation Sans, Arial, Helvetica, sans-serif" font-weight="bold" fill="#000" stroke="#000" stroke-width="0.3">350</text>
<text transform="translate(836.1,467.6) scale(1.210,1) rotate(-45)" text-anchor="end" font-size="19.3" font-family="Liberation Sans, Arial, Helvetica, sans-serif" font-weight="bold" fill="#000" stroke="#000" stroke-width="0.3">400</text>
<text transform="translate(903.2,467.6) scale(1.210,1) rotate(-45)" text-anchor="end" font-size="19.3" font-family="Liberation Sans, Arial, Helvetica, sans-serif" font-weight="bold" fill="#000" stroke="#000" stroke-width="0.3">450</text>
<text transform="translate(970.4,467.6) scale(1.210,1) rotate(-45)" text-anchor="end" font-size="19.3" font-family="Liberation Sans, Arial, Helvetica, sans-serif" font-weight="bold" fill="#000" stroke="#000" stroke-width="0.3">500</text>
<text transform="translate(236.0,196.0) scale(1.210,1)" font-size="19" font-family="Liberation Sans, Arial, Helvetica, sans-serif" font-weight="bold" fill="#000" stroke="#000" stroke-width="0.3">10<tspan dy="-9.4" font-size="16.2">5</tspan></text>
<text transform="translate(236.0,416.6) scale(1.210,1)" font-size="19" font-family="Liberation Sans, Arial, Helvetica, sans-serif" font-weight="bold" fill="#000" stroke="#000" stroke-width="0.3">10<tspan dy="-9.4" font-size="16.2">4</tspan></text>
<text transform="translate(620.5,518.7) scale(1.210,1)" text-anchor="middle" font-size="19.5" font-family="Liberation Sans, Arial, Helvetica, sans-serif" font-weight="bold" fill="#000" stroke="#000" stroke-width="0.3">Number of Iteration</text>
<text transform="translate(224.3,245.2) scale(1.210,1) rotate(-90)" text-anchor="middle" font-size="19.8" font-family="Liberation Sans, Arial, Helvetica, sans-serif" font-weight="bold" fill="#000" stroke="#000" stroke-width="0.3">Fitness Value</text>
<rect x="1135.3" y="51.2" width="690.4" height="359.5" fill="#FDF0DC"/>
<path d="M1148.0 294.0 H1175.8" stroke="#8a60d0" stroke-width="2.10" fill="none"/>
<path d="M1148.3 294.0 H1175.5" stroke="#F00010" stroke-width="1.90" fill="none"/>
<path d="M1156.7 294.0 h10.4 M1161.9 288.8 v10.4" stroke="#FF0000" stroke-width="1.4" fill="none"/>
<path d="M1215.0 166.2 V67.6 M1215.0 394.5 V314.7" stroke="#1a1a1a" stroke-width="1.25" stroke-dasharray="12.9 6.8" fill="none"/>
<path d="M1208.4 67.6 H1221.6" stroke="#000" stroke-width="1.25" fill="none"/>
<path d="M1208.4 394.5 H1221.6" stroke="#000" stroke-width="1.25" fill="none"/>
<rect x="1201.8" y="166.2" width="26.4" height="148.5" fill="none" stroke="#0000FF" stroke-width="1.4"/>
<path d="M1201.8 233.2 H1228.2" stroke="#FF0000" stroke-width="1.40" fill="none"/>
<path d="M1254.2 294.0 H1282.0" stroke="#8a60d0" stroke-width="2.10" fill="none"/>
<path d="M1254.5 294.0 H1281.7" stroke="#F00010" stroke-width="1.90" fill="none"/>
<path d="M1307.3 294.0 H1335.1" stroke="#8a60d0" stroke-width="2.10" fill="none"/>
<path d="M1307.6 294.0 H1334.8" stroke="#F00010" stroke-width="1.90" fill="none"/>
<path d="M1360.4 294.0 H1388.2" stroke="#8a60d0" stroke-width="2.10" fill="none"/>
<path d="M1360.7 294.0 H1387.9" stroke="#F00010" stroke-width="1.90" fill="none"/>
<path d="M1369.1 294.0 h10.4 M1374.3 288.8 v10.4" stroke="#FF0000" stroke-width="1.4" fill="none"/>
<path d="M1413.5 294.0 H1441.3" stroke="#8a60d0" stroke-width="2.10" fill="none"/>
<path d="M1413.8 294.0 H1441.0" stroke="#F00010" stroke-width="1.90" fill="none"/>
<path d="M1466.6 294.0 H1494.4" stroke="#8a60d0" stroke-width="2.10" fill="none"/>
<path d="M1466.9 294.0 H1494.1" stroke="#F00010" stroke-width="1.90" fill="none"/>
<path d="M1475.3 294.0 h10.4 M1480.5 288.8 v10.4" stroke="#FF0000" stroke-width="1.4" fill="none"/>
<path d="M1519.7 294.0 H1547.5" stroke="#8a60d0" stroke-width="2.10" fill="none"/>
<path d="M1520.0 294.0 H1547.2" stroke="#F00010" stroke-width="1.90" fill="none"/>
<path d="M1572.8 294.0 H1600.6" stroke="#8a60d0" stroke-width="2.10" fill="none"/>
<path d="M1573.1 294.0 H1600.3" stroke="#F00010" stroke-width="1.90" fill="none"/>
<path d="M1625.9 294.0 H1653.7" stroke="#8a60d0" stroke-width="2.10" fill="none"/>
<path d="M1626.2 294.0 H1653.4" stroke="#F00010" stroke-width="1.90" fill="none"/>
<path d="M1634.6 294.0 h10.4 M1639.8 288.8 v10.4" stroke="#FF0000" stroke-width="1.4" fill="none"/>
<path d="M1679.0 294.0 H1706.8" stroke="#8a60d0" stroke-width="2.10" fill="none"/>
<path d="M1679.3 294.0 H1706.5" stroke="#F00010" stroke-width="1.90" fill="none"/>
<path d="M1746.0 281 V285.4 M1746.0 294.4 V297.9" stroke="#1a1a1a" stroke-width="1.25" fill="none"/>
<path d="M1740.2 281.0 H1751.8" stroke="#000" stroke-width="1.25" fill="none"/>
<path d="M1740.2 297.9 H1751.8" stroke="#000" stroke-width="1.25" fill="none"/>
<rect x="1732.8" y="285.4" width="26.4" height="9.0" fill="none" stroke="#0000FF" stroke-width="1.4"/>
<path d="M1732.8 289.7 H1759.2" stroke="#FF0000" stroke-width="1.40" fill="none"/>
<path d="M1785.2 294.0 H1813.0" stroke="#8a60d0" stroke-width="2.10" fill="none"/>
<path d="M1785.5 294.0 H1812.7" stroke="#F00010" stroke-width="1.90" fill="none"/>
<rect x="1135.3" y="51.2" width="690.4" height="359.5" fill="none" stroke="#000" stroke-width="1.6"/>
<path d="M1161.9 410.7 v-6.5 M1161.9 51.2 v6.5 M1215.0 410.7 v-6.5 M1215.0 51.2 v6.5 M1268.1 410.7 v-6.5 M1268.1 51.2 v6.5 M1321.2 410.7 v-6.5 M1321.2 51.2 v6.5 M1374.3 410.7 v-6.5 M1374.3 51.2 v6.5 M1427.4 410.7 v-6.5 M1427.4 51.2 v6.5 M1480.5 410.7 v-6.5 M1480.5 51.2 v6.5 M1533.6 410.7 v-6.5 M1533.6 51.2 v6.5 M1586.7 410.7 v-6.5 M1586.7 51.2 v6.5 M1639.8 410.7 v-6.5 M1639.8 51.2 v6.5 M1692.9 410.7 v-6.5 M1692.9 51.2 v6.5 M1746.0 410.7 v-6.5 M1746.0 51.2 v6.5 M1799.1 410.7 v-6.5 M1799.1 51.2 v6.5 M1135.3 387.5 h6.5 M1825.7 387.5 h-6.5 M1135.3 294.0 h6.5 M1825.7 294.0 h-6.5 M1135.3 200.5 h6.5 M1825.7 200.5 h-6.5 M1135.3 107.0 h6.5 M1825.7 107.0 h-6.5" stroke="#000" stroke-width="1.6" fill="none"/>
<text transform="translate(1178.4,432.8) scale(1.210,1) rotate(-45)" text-anchor="end" font-size="19.4" font-family="Liberation Sans, Arial, Helvetica, sans-serif" font-weight="bold" fill="#000" stroke="#000" stroke-width="0.3">HGWPSO</text>
<text transform="translate(1231.5,432.8) scale(1.210,1) rotate(-45)" text-anchor="end" font-size="19.4" font-family="Liberation Sans, Arial, Helvetica, sans-serif" font-weight="bold" fill="#000" stroke="#000" stroke-width="0.3">HMFOPSO</text>
<text transform="translate(1284.6,432.8) scale(1.210,1) rotate(-45)" text-anchor="end" font-size="19.4" font-family="Liberation Sans, Arial, Helvetica, sans-serif" font-weight="bold" fill="#000" stroke="#000" stroke-width="0.3">HPSOALO</text>
<text transform="translate(1337.7,432.8) scale(1.210,1) rotate(-45)" text-anchor="end" font-size="19.4" font-family="Liberation Sans, Arial, Helvetica, sans-serif" font-weight="bold" fill="#000" stroke="#000" stroke-width="0.3">HGWOWOA</text>
<text transform="translate(1390.8,432.8) scale(1.210,1) rotate(-45)" text-anchor="end" font-size="19.4" font-family="Liberation Sans, Arial, Helvetica, sans-serif" font-weight="bold" fill="#000" stroke="#000" stroke-width="0.3">HGWOSCA</text>
<text transform="translate(1443.9,432.8) scale(1.210,1) rotate(-45)" text-anchor="end" font-size="19.4" font-family="Liberation Sans, Arial, Helvetica, sans-serif" font-weight="bold" fill="#000" stroke="#000" stroke-width="0.3">GWO</text>
<text transform="translate(1497.0,432.8) scale(1.210,1) rotate(-45)" text-anchor="end" font-size="19.4" font-family="Liberation Sans, Arial, Helvetica, sans-serif" font-weight="bold" fill="#000" stroke="#000" stroke-width="0.3">PSO</text>
<text transform="translate(1550.1,432.8) scale(1.210,1) rotate(-45)" text-anchor="end" font-size="19.4" font-family="Liberation Sans, Arial, Helvetica, sans-serif" font-weight="bold" fill="#000" stroke="#000" stroke-width="0.3">MFO</text>
<text transform="translate(1603.2,432.8) scale(1.210,1) rotate(-45)" text-anchor="end" font-size="19.4" font-family="Liberation Sans, Arial, Helvetica, sans-serif" font-weight="bold" fill="#000" stroke="#000" stroke-width="0.3">WOA</text>
<text transform="translate(1656.3,432.8) scale(1.210,1) rotate(-45)" text-anchor="end" font-size="19.4" font-family="Liberation Sans, Arial, Helvetica, sans-serif" font-weight="bold" fill="#000" stroke="#000" stroke-width="0.3">SCA</text>
<text transform="translate(1709.4,432.8) scale(1.210,1) rotate(-45)" text-anchor="end" font-size="19.4" font-family="Liberation Sans, Arial, Helvetica, sans-serif" font-weight="bold" fill="#000" stroke="#000" stroke-width="0.3">ALO</text>
<text transform="translate(1762.5,432.8) scale(1.210,1) rotate(-45)" text-anchor="end" font-size="19.4" font-family="Liberation Sans, Arial, Helvetica, sans-serif" font-weight="bold" fill="#000" stroke="#000" stroke-width="0.3">COA</text>
<text transform="translate(1815.6,432.8) scale(1.210,1) rotate(-45)" text-anchor="end" font-size="19.4" font-family="Liberation Sans, Arial, Helvetica, sans-serif" font-weight="bold" fill="#000" stroke="#000" stroke-width="0.3">GJO</text>
<text transform="translate(1125.5,395.6) scale(1.210,1)" text-anchor="end" font-size="19" font-family="Liberation Sans, Arial, Helvetica, sans-serif" font-weight="bold" fill="#000" stroke="#000" stroke-width="0.3">-5</text>
<text transform="translate(1125.5,302.1) scale(1.210,1)" text-anchor="end" font-size="19" font-family="Liberation Sans, Arial, Helvetica, sans-serif" font-weight="bold" fill="#000" stroke="#000" stroke-width="0.3">0</text>
<text transform="translate(1125.5,208.6) scale(1.210,1)" text-anchor="end" font-size="19" font-family="Liberation Sans, Arial, Helvetica, sans-serif" font-weight="bold" fill="#000" stroke="#000" stroke-width="0.3">5</text>
<text transform="translate(1125.5,115.1) scale(1.210,1)" text-anchor="end" font-size="19" font-family="Liberation Sans, Arial, Helvetica, sans-serif" font-weight="bold" fill="#000" stroke="#000" stroke-width="0.3">10</text>
<text transform="translate(1135.6,50.0) scale(1.210,1)" font-size="26" font-family="Liberation Sans, Arial, sans-serif" fill="#000">×</text>
<text transform="translate(1156.5,46.6) scale(1.210,1)" font-size="20" font-family="Liberation Sans, Arial, Helvetica, sans-serif" font-weight="bold" fill="#000" stroke="#000" stroke-width="0.3">10<tspan dy="-9.6" font-size="16">8</tspan></text>
<text transform="translate(1480.0,540.0) scale(1.210,1)" text-anchor="middle" font-size="22.2" font-family="Liberation Sans, Arial, Helvetica, sans-serif" font-weight="bold" fill="#000" stroke="#000" stroke-width="0.3">Algorithim</text>
<text transform="translate(1089.3,231.0) scale(1.210,1) rotate(-90)" text-anchor="middle" font-size="22" font-family="Liberation Sans, Arial, Helvetica, sans-serif" font-weight="bold" fill="#000" stroke="#000" stroke-width="0.3">Fitness Value</text>
<text x="472" y="606.3" text-anchor="middle" font-size="41" font-family="Liberation Serif, 'Times New Roman', serif" fill="#000">(a)</text>
<text x="1534" y="606.3" text-anchor="middle" font-size="41" font-family="Liberation Serif, 'Times New Roman', serif" fill="#000">(b)</text>
<text x="0.5" y="659.8" font-size="40.4" textLength="173.0" lengthAdjust="spacingAndGlyphs" font-family="Liberation Serif, 'Times New Roman', serif" fill="#000">HGWPSO</text>
<path d="M191.0 645.8 H284.0" stroke="#FF0000" stroke-width="6.0" fill="none"/>
<text x="307.5" y="659.8" font-size="40.4" textLength="192.5" lengthAdjust="spacingAndGlyphs" font-family="Liberation Serif, 'Times New Roman', serif" fill="#000">HMFOPSO</text>
<path d="M513.4 645.8 H606.5" stroke="#0CAA0C" stroke-width="6.0" fill="none"/>
<text x="615.7" y="659.8" font-size="40.4" textLength="189.3" lengthAdjust="spacingAndGlyphs" font-family="Liberation Serif, 'Times New Roman', serif" fill="#000">HPSOALO</text>
<path d="M823.0 645.8 H915.6" stroke="#2A1AFF" stroke-width="6.0" stroke-dasharray="17.3 5.8" fill="none"/>
<text x="919.7" y="659.8" font-size="40.4" textLength="227.8" lengthAdjust="spacingAndGlyphs" font-family="Liberation Serif, 'Times New Roman', serif" fill="#000">HGWOWOA</text>
<path d="M1171.6 645.8 H1264.2" stroke="#0CAA0C" stroke-width="6.0" stroke-dasharray="17.3 5.8" fill="none"/>
<text x="1282.2" y="659.8" font-size="40.4" textLength="207.4" lengthAdjust="spacingAndGlyphs" font-family="Liberation Serif, 'Times New Roman', serif" fill="#000">HGWOSCA</text>
<path d="M1507.5 645.8 H1601.0" stroke="#A0138A" stroke-width="6.0" stroke-dasharray="5.9 5.6" fill="none"/>
<text x="1622.7" y="659.8" font-size="40.4" textLength="99.0" lengthAdjust="spacingAndGlyphs" font-family="Liberation Serif, 'Times New Roman', serif" fill="#000">GWO</text>
<path d="M1738.0 645.8 H1830.6" stroke="#000000" stroke-width="6.0" fill="none"/>
<text x="0.5" y="711.3" font-size="40.4" textLength="73.7" lengthAdjust="spacingAndGlyphs" font-family="Liberation Serif, 'Times New Roman', serif" fill="#000">PSO</text>
<path d="M91.7 697.5 H184.8" stroke="#0FB0B0" stroke-width="6.0" stroke-dasharray="17.3 5.8" fill="none"/>
<text x="188.3" y="711.3" font-size="40.4" textLength="88.1" lengthAdjust="spacingAndGlyphs" font-family="Liberation Serif, 'Times New Roman', serif" fill="#000">MFO</text>
<path d="M294.5 697.5 H387.8" stroke="#FFFF00" stroke-width="6.0" stroke-dasharray="17.3 5.8" fill="none"/>
<text x="392.9" y="711.3" font-size="40.4" textLength="96.1" lengthAdjust="spacingAndGlyphs" font-family="Liberation Serif, 'Times New Roman', serif" fill="#000">WOA</text>
<path d="M512.4 697.5 H605.6" stroke="#ED7D31" stroke-width="6.0" stroke-dasharray="5.9 5.6" fill="none"/>
<text x="623.4" y="711.3" font-size="40.4" textLength="77.6" lengthAdjust="spacingAndGlyphs" font-family="Liberation Serif, 'Times New Roman', serif" fill="#000">SCA</text>
<path d="M730.0 697.5 H823.0" stroke="#7030A0" stroke-width="6.0" fill="none"/>
<text x="836.0" y="711.3" font-size="40.4" textLength="82.9" lengthAdjust="spacingAndGlyphs" font-family="Liberation Serif, 'Times New Roman', serif" fill="#000">ALO</text>
<path d="M938.8 697.5 H1031.7" stroke="#4A90C4" stroke-width="6.0" stroke-dasharray="17.3 5.8" fill="none"/>
<text x="1034.0" y="711.3" font-size="40.4" textLength="87.0" lengthAdjust="spacingAndGlyphs" font-family="Liberation Serif, 'Times New Roman', serif" fill="#000">COA</text>
<path d="M1137.8 697.5 H1230.4" stroke="#A89A50" stroke-width="6.0" stroke-dasharray="17.3 5.8" fill="none"/>
<text x="1236.2" y="711.3" font-size="40.4" textLength="73.3" lengthAdjust="spacingAndGlyphs" font-family="Liberation Serif, 'Times New Roman', serif" fill="#000">GJO</text>
<path d="M1338.7 697.5 H1432.0" stroke="#808080" stroke-width="6.0" stroke-dasharray="5.9 5.6" fill="none"/>
</svg>
</body>
</html>
